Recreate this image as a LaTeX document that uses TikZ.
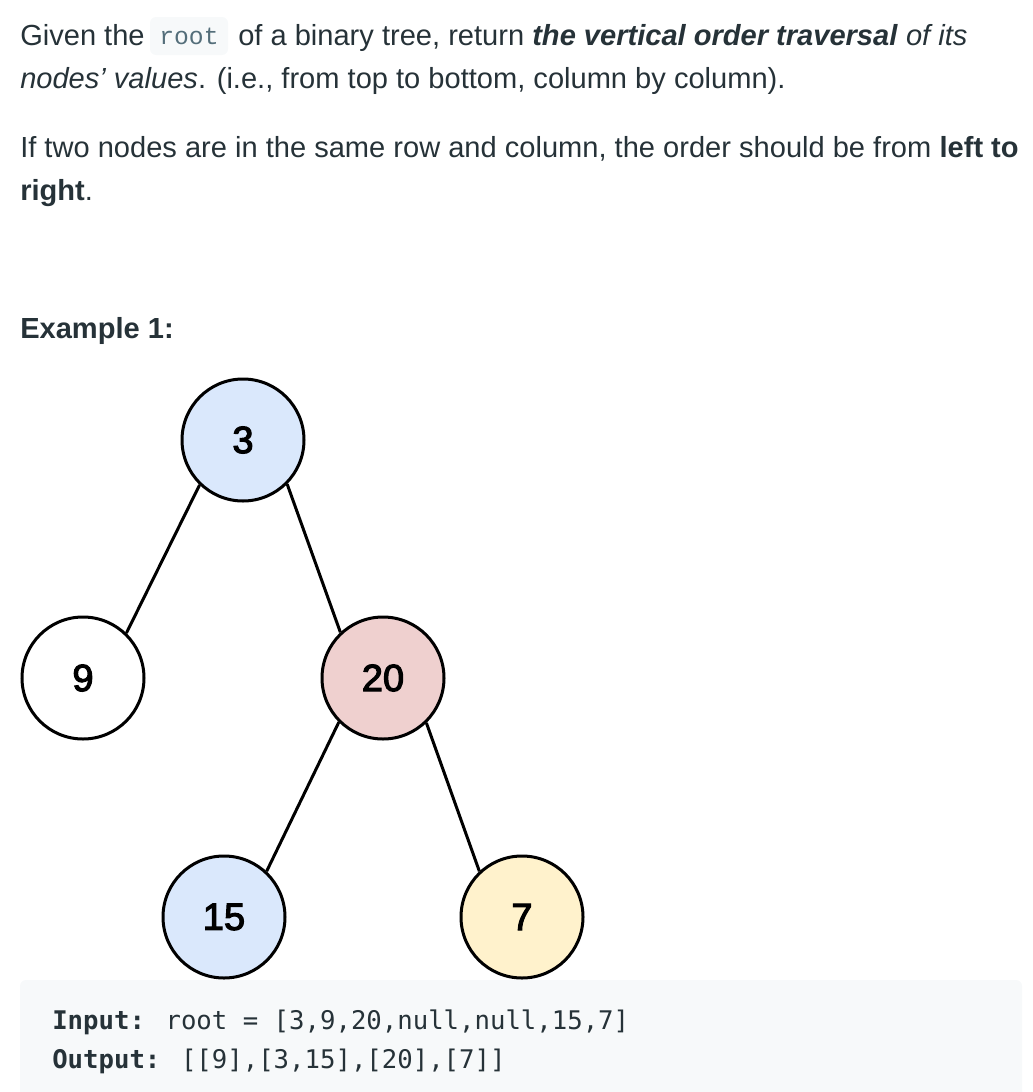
\documentclass[tikz,border=0pt]{standalone}
\usepackage{fontspec}
\setmainfont{Liberation Sans}
\newfontfamily\codefont{DejaVu Sans Mono}
\newfontfamily\inlinecode{Liberation Mono}
\newfontfamily\nodefont[FakeBold=3]{Liberation Sans}
\definecolor{txt}{HTML}{263238}
\definecolor{codebg}{HTML}{F7F9FA}
\definecolor{inl}{HTML}{546E7A}
\definecolor{fblue}{HTML}{DAE8FC}
\definecolor{fpink}{HTML}{EFD0CF}
\definecolor{fyellow}{HTML}{FFF2CC}
\tikzset{
  body/.style={anchor=base west, inner sep=0pt, text=txt, font=\fontsize{21.8pt}{26pt}\selectfont},
  code/.style={anchor=base west, inner sep=0pt, text=txt, font=\codefont\fontsize{19.25pt}{22pt}\selectfont},
  tnode/.style={circle, draw=black, line width=2.25pt, minimum size=91.5pt, inner sep=0pt,
    font=\nodefont\fontsize{28.5pt}{30pt}\selectfont},
  tedge/.style={draw=black, line width=2.25pt},
}
\begin{document}
\begin{tikzpicture}[x=0.75pt,y=-0.75pt]
\useasboundingbox (0,0) rectangle (1032,1092);
% text
\node[body] (l1a) at (20,45) {Given the};
\node[fill=codebg, rounded corners=4.5pt, minimum width=58.5pt, minimum height=28.5pt, inner sep=0pt,
      text=inl, font=\inlinecode\fontsize{18.5pt}{20pt}\selectfont] (rootbox) at (189,36) {root};
\node[body] (l1b) at (238,45) {of a binary tree, return \textbf{\textit{the vertical order traversal}} \textit{of its}};
\node[body] (l2) at (20,88) {\textit{nodes{\char"27} values}. (i.e., from top to bottom, column by column).};
\node[body] (l3) at (20,157) {If two nodes are in the same row and column, the order should be from \textbf{left to}};
\node[body] (l4) at (20,200) {\textbf{right}.};
\node[body, font=\bfseries\fontsize{21.8pt}{26pt}\selectfont] (ex) at (20,338) {Example 1:};
% code block
\fill[codebg, rounded corners=4.5pt] (20,980) rectangle (1022,1110);
\node[code] (in) at (52,1029) {\textbf{Input:} root = [3,9,20,null,null,15,7]};
\node[code] (out) at (52,1068) {\textbf{Output:} [[9],[3,15],[20],[7]]};
% tree
\node[tnode, fill=fblue] (n3) at (243,440) {3};
\node[tnode, fill=white] (n9) at (83,678) {9};
\node[tnode, fill=fpink] (n20) at (383,678) {20};
\node[tnode, fill=fblue] (n15) at (224,917) {15};
\node[tnode, fill=fyellow] (n7) at (522,917) {7};
\draw[tedge] (n3.226) -- (n9.46);
\draw[tedge] (n3.315) -- (n20.133);
\draw[tedge] (n20.225) -- (n15.47);
\draw[tedge] (n20.314) -- (n7.133);
\end{tikzpicture}
\end{document}
